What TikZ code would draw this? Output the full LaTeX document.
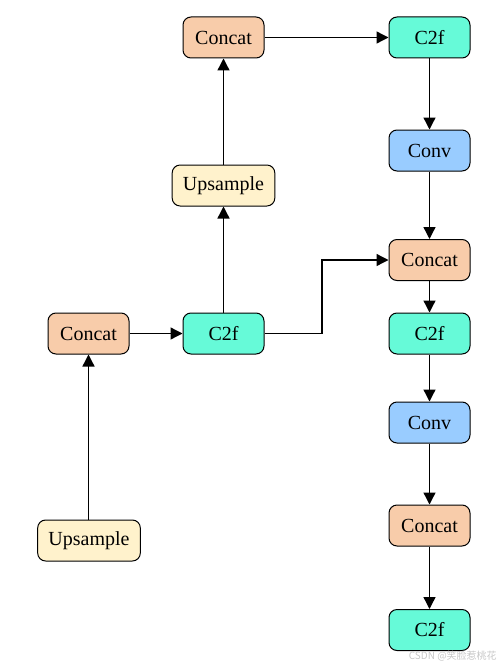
\documentclass[tikz,border=0pt]{standalone}
\usepackage{fontspec}
\setmainfont{Liberation Serif}
\newfontfamily\cjkfont{Noto Sans CJK SC}
\usetikzlibrary{arrows.meta}
\definecolor{cconcat}{RGB}{248,204,170}
\definecolor{cup}{RGB}{255,242,204}
\definecolor{cctwof}{RGB}{102,250,216}
\definecolor{cconv}{RGB}{153,204,255}
\tikzset{
  blk/.style={draw=black, line width=0.75pt, rounded corners=6pt, minimum width=60.75pt, minimum height=30.75pt, inner sep=0pt, font=\fontsize{15}{17}\selectfont},
  concatbox/.style={blk, fill=cconcat},
  upbox/.style={blk, fill=cup, minimum width=77pt},
  ctwofbox/.style={blk, fill=cctwof},
  convbox/.style={blk, fill=cconv},
  arr/.style={draw=black, line width=1pt, -{Triangle[length=9pt,width=9pt]}}
}
\begin{document}
\begin{tikzpicture}[x=0.75pt,y=-0.75pt]
\useasboundingbox (0,0) rectangle (501,667);
\node[concatbox] (cat1) at (223.5,37.5) {Concat};
\node[ctwofbox] (c2f1) at (429.5,37.5) {C2f};
\node[convbox] (conv1) at (429.5,150.5) {Conv};
\node[upbox] (up1) at (223.5,185.5) {Upsample};
\node[concatbox] (cat2) at (429.5,260) {Concat};
\node[concatbox] (cat0) at (88.5,333.5) {Concat};
\node[ctwofbox] (c2f0) at (223.5,333.5) {C2f};
\node[ctwofbox] (c2f2) at (429.5,333.5) {C2f};
\node[convbox] (conv2) at (429.5,422.5) {Conv};
\node[upbox] (up0) at (89,540.5) {Upsample};
\node[concatbox] (cat3) at (429.5,525.5) {Concat};
\node[ctwofbox] (c2f3) at (429.5,630) {C2f};
\coordinate (bend1) at (322,333.5);
\coordinate (bend2) at (322,260);
\draw[arr] (up0.north -| cat0) -- (cat0.south);
\draw[arr] (cat0.east) -- (c2f0.west);
\draw[arr] (c2f0.north) -- (up1.south);
\draw[arr] (up1.north) -- (cat1.south);
\draw[arr] (cat1.east) -- (c2f1.west);
\draw[arr] (c2f1.south) -- (conv1.north);
\draw[arr] (conv1.south) -- (cat2.north);
\draw[arr] (c2f0.east) -- (bend1) -- (bend2) -- (cat2.west);
\draw[arr] (cat2.south) -- (c2f2.north);
\draw[arr] (c2f2.south) -- (conv2.north);
\draw[arr] (conv2.south) -- (cat3.north);
\draw[arr] (cat3.south) -- (c2f3.north);
\node[text=black!22, font=\cjkfont\fontsize{7.5}{8}\selectfont, anchor=east, inner sep=0pt] (wm) at (497,656) {CSDN @笑脸惹桃花};
\end{tikzpicture}
\end{document}
